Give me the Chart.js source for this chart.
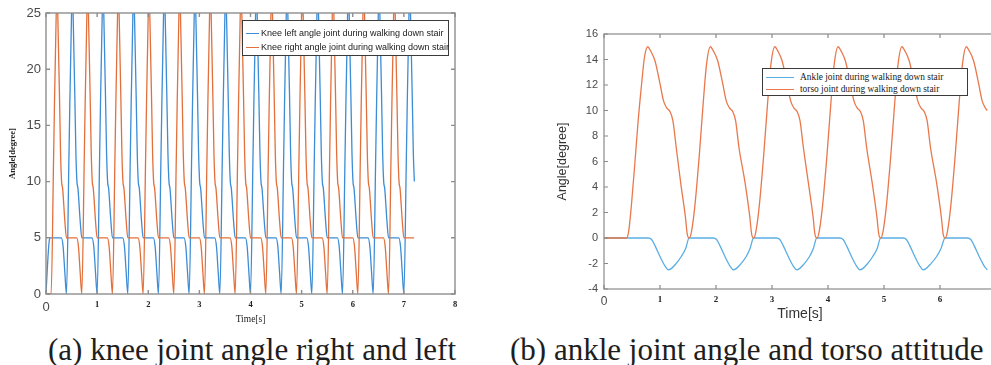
<!DOCTYPE html>
<html>
<head>
<meta charset="utf-8">
<script src="https://cdn.jsdelivr.net/npm/chart.js@4.4.1/dist/chart.umd.min.js"></script>
<style>
  html, body { margin: 0; padding: 0; background: #fff; }
  body { width: 991px; height: 365px; overflow: hidden; position: relative; }
  canvas { position: absolute; }
  .legend { position: absolute; background: #fff; border: 1px solid #3a3a3a; box-sizing: border-box; }
  .row { position: absolute; left: 0; white-space: nowrap; color: #1a1a1a; }
  .swatch { position: absolute; height: 0; border-top-width: 1.4px; border-top-style: solid; }
  .caption { position: absolute; font-family: "Liberation Serif", serif; font-size: 31px; line-height: 31px; color: #1e1e1e; white-space: nowrap; }
</style>
</head>
<body>
<canvas id="chartA" width="470" height="330" style="left:0px;top:0px;"></canvas>
<canvas id="chartB" width="460" height="305" style="left:550px;top:20px;"></canvas>

<div class="legend" id="legendA" style="left:242px;top:20px;width:207px;height:36px;font-family:'Liberation Sans',sans-serif;font-size:9px;"></div>
<div class="legend" id="legendB" style="left:762px;top:68px;width:206px;height:28px;font-family:'Liberation Serif',serif;font-size:9.4px;"></div>

<div class="caption" style="left:48px;top:334px;">(a) knee joint angle right and left</div>
<div class="caption" style="left:510px;top:334px;">(b) ankle joint angle and torso attitude</div>

<script>
// ---------------- Panel (a): knee joint angles ----------------
const kneeSeriesNames = ["Knee left angle joint during walking down stair", "Knee right angle joint during walking down stair"];
const kneeXTicks = [0, 1, 2, 3, 4, 5, 6, 7, 8];
const kneeYTicks = [0, 5, 10, 15, 20, 25];

const kneeLeftTime = [
  0, 0.03, 0.06, 0.08,
  0.30, 0.335, 0.37, 0.40, 0.45, 0.50, 0.515, 0.53, 0.585, 0.605, 0.625, 0.67, 0.70,
  0.90, 0.935, 0.97, 1.00, 1.05, 1.10, 1.115, 1.13, 1.185, 1.205, 1.225, 1.27, 1.30,
  1.50, 1.535, 1.57, 1.60, 1.65, 1.70, 1.715, 1.73, 1.785, 1.805, 1.825, 1.87, 1.90,
  2.10, 2.135, 2.17, 2.20, 2.25, 2.30, 2.315, 2.33, 2.385, 2.405, 2.425, 2.47, 2.50,
  2.70, 2.735, 2.77, 2.80, 2.85, 2.90, 2.915, 2.93, 2.985, 3.005, 3.025, 3.07, 3.10,
  3.30, 3.335, 3.37, 3.40, 3.45, 3.50, 3.515, 3.53, 3.585, 3.605, 3.625, 3.67, 3.70,
  3.90, 3.935, 3.97, 4.00, 4.05, 4.10, 4.115, 4.13, 4.185, 4.205, 4.225, 4.27, 4.30,
  4.50, 4.535, 4.57, 4.60, 4.65, 4.70, 4.715, 4.73, 4.785, 4.805, 4.825, 4.87, 4.90,
  5.10, 5.135, 5.17, 5.20, 5.25, 5.30, 5.315, 5.33, 5.385, 5.405, 5.425, 5.47, 5.50,
  5.70, 5.735, 5.77, 5.80, 5.85, 5.90, 5.915, 5.93, 5.985, 6.005, 6.025, 6.07, 6.10,
  6.30, 6.335, 6.37, 6.40, 6.45, 6.50, 6.515, 6.53, 6.585, 6.605, 6.625, 6.67, 6.70,
  6.90, 6.935, 6.97, 7.00, 7.05, 7.10, 7.115, 7.13, 7.185, 7.205
];
const kneeLeftAngle = [
  0, 2.6, 4.6, 5,
  5, 4.2, 1.8, 0, 12.5, 25, 25.6, 25, 12.5, 10, 9.4, 6.4, 5,
  5, 4.2, 1.8, 0, 12.5, 25, 25.6, 25, 12.5, 10, 9.4, 6.4, 5,
  5, 4.2, 1.8, 0, 12.5, 25, 25.6, 25, 12.5, 10, 9.4, 6.4, 5,
  5, 4.2, 1.8, 0, 12.5, 25, 25.6, 25, 12.5, 10, 9.4, 6.4, 5,
  5, 4.2, 1.8, 0, 12.5, 25, 25.6, 25, 12.5, 10, 9.4, 6.4, 5,
  5, 4.2, 1.8, 0, 12.5, 25, 25.6, 25, 12.5, 10, 9.4, 6.4, 5,
  5, 4.2, 1.8, 0, 12.5, 25, 25.6, 25, 12.5, 10, 9.4, 6.4, 5,
  5, 4.2, 1.8, 0, 12.5, 25, 25.6, 25, 12.5, 10, 9.4, 6.4, 5,
  5, 4.2, 1.8, 0, 12.5, 25, 25.6, 25, 12.5, 10, 9.4, 6.4, 5,
  5, 4.2, 1.8, 0, 12.5, 25, 25.6, 25, 12.5, 10, 9.4, 6.4, 5,
  5, 4.2, 1.8, 0, 12.5, 25, 25.6, 25, 12.5, 10, 9.4, 6.4, 5,
  5, 4.2, 1.8, 0, 12.5, 25, 25.6, 25, 12.5, 10
];
const kneeRightTime = [
  0, 0.10, 0.15, 0.20, 0.215, 0.23, 0.285, 0.305, 0.325, 0.37, 0.40,
  0.60, 0.635, 0.67, 0.70, 0.75, 0.80, 0.815, 0.83, 0.885, 0.905, 0.925, 0.97, 1.00,
  1.20, 1.235, 1.27, 1.30, 1.35, 1.40, 1.415, 1.43, 1.485, 1.505, 1.525, 1.57, 1.60,
  1.80, 1.835, 1.87, 1.90, 1.95, 2.00, 2.015, 2.03, 2.085, 2.105, 2.125, 2.17, 2.20,
  2.40, 2.435, 2.47, 2.50, 2.55, 2.60, 2.615, 2.63, 2.685, 2.705, 2.725, 2.77, 2.80,
  3.00, 3.035, 3.07, 3.10, 3.15, 3.20, 3.215, 3.23, 3.285, 3.305, 3.325, 3.37, 3.40,
  3.60, 3.635, 3.67, 3.70, 3.75, 3.80, 3.815, 3.83, 3.885, 3.905, 3.925, 3.97, 4.00,
  4.20, 4.235, 4.27, 4.30, 4.35, 4.40, 4.415, 4.43, 4.485, 4.505, 4.525, 4.57, 4.60,
  4.80, 4.835, 4.87, 4.90, 4.95, 5.00, 5.015, 5.03, 5.085, 5.105, 5.125, 5.17, 5.20,
  5.40, 5.435, 5.47, 5.50, 5.55, 5.60, 5.615, 5.63, 5.685, 5.705, 5.725, 5.77, 5.80,
  6.00, 6.035, 6.07, 6.10, 6.15, 6.20, 6.215, 6.23, 6.285, 6.305, 6.325, 6.37, 6.40,
  6.60, 6.635, 6.67, 6.70, 6.75, 6.80, 6.815, 6.83, 6.885, 6.905, 6.925, 6.97, 7.00,
  7.20
];
const kneeRightAngle = [
  0, 0, 12.5, 25, 25.6, 25, 12.5, 10, 9.4, 6.4, 5,
  5, 4.2, 1.8, 0, 12.5, 25, 25.6, 25, 12.5, 10, 9.4, 6.4, 5,
  5, 4.2, 1.8, 0, 12.5, 25, 25.6, 25, 12.5, 10, 9.4, 6.4, 5,
  5, 4.2, 1.8, 0, 12.5, 25, 25.6, 25, 12.5, 10, 9.4, 6.4, 5,
  5, 4.2, 1.8, 0, 12.5, 25, 25.6, 25, 12.5, 10, 9.4, 6.4, 5,
  5, 4.2, 1.8, 0, 12.5, 25, 25.6, 25, 12.5, 10, 9.4, 6.4, 5,
  5, 4.2, 1.8, 0, 12.5, 25, 25.6, 25, 12.5, 10, 9.4, 6.4, 5,
  5, 4.2, 1.8, 0, 12.5, 25, 25.6, 25, 12.5, 10, 9.4, 6.4, 5,
  5, 4.2, 1.8, 0, 12.5, 25, 25.6, 25, 12.5, 10, 9.4, 6.4, 5,
  5, 4.2, 1.8, 0, 12.5, 25, 25.6, 25, 12.5, 10, 9.4, 6.4, 5,
  5, 4.2, 1.8, 0, 12.5, 25, 25.6, 25, 12.5, 10, 9.4, 6.4, 5,
  5, 4.2, 1.8, 0, 12.5, 25, 25.6, 25, 12.5, 10, 9.4, 6.4, 5,
  5
];

// ---------------- Panel (b): ankle joint and torso ----------------
const ankleSeriesNames = ["Ankle joint during walking down stair", "torso joint during walking down stair"];
const ankleXTicks = [0, 1, 2, 3, 4, 5, 6, 7];
const ankleYTicks = [-4, -2, 0, 2, 4, 6, 8, 10, 12, 14, 16];

const ankleTime = [
  0, 0.79, 0.85, 0.91, 1.00, 1.09, 1.15, 1.20, 1.27, 1.38, 1.46, 1.52,
  1.95, 2.01, 2.07, 2.16, 2.25, 2.31, 2.36, 2.43, 2.54, 2.61, 2.67,
  3.08, 3.14, 3.20, 3.29, 3.38, 3.44, 3.49, 3.56, 3.67, 3.74, 3.80,
  4.21, 4.27, 4.33, 4.42, 4.51, 4.57, 4.62, 4.69, 4.80, 4.88, 4.94,
  5.34, 5.40, 5.46, 5.55, 5.64, 5.70, 5.75, 5.82, 5.94, 6.02, 6.09,
  6.49, 6.55, 6.61, 6.70, 6.79, 6.845
];
const ankleAngle = [
  0, 0, -0.12, -0.6, -1.45, -2.2, -2.5, -2.4, -2.1, -1.45, -0.8, 0,
  0, -0.12, -0.6, -1.45, -2.2, -2.5, -2.4, -2.1, -1.45, -0.8, 0,
  0, -0.12, -0.6, -1.45, -2.2, -2.5, -2.4, -2.1, -1.45, -0.8, 0,
  0, -0.12, -0.6, -1.45, -2.2, -2.5, -2.4, -2.1, -1.45, -0.8, 0,
  0, -0.12, -0.6, -1.45, -2.2, -2.5, -2.4, -2.1, -1.45, -0.8, 0,
  0, -0.12, -0.6, -1.45, -2.2, -2.5
];
const torsoTime = [
  0, 0.40, 0.44, 0.49, 0.55, 0.61, 0.67, 0.72, 0.78,
  0.83, 0.91, 1.00, 1.06, 1.12, 1.18, 1.23, 1.29, 1.37, 1.455, 1.485, 1.52,
  1.56, 1.62, 1.70, 1.77, 1.83, 1.90,
  1.95, 2.03, 2.12, 2.18, 2.24, 2.30, 2.35, 2.41, 2.52, 2.605, 2.635, 2.67,
  2.71, 2.77, 2.85, 2.92, 2.98, 3.05,
  3.10, 3.18, 3.27, 3.33, 3.39, 3.45, 3.50, 3.56, 3.65, 3.735, 3.765, 3.80,
  3.84, 3.90, 3.98, 4.05, 4.11, 4.18,
  4.23, 4.31, 4.40, 4.46, 4.52, 4.58, 4.63, 4.69, 4.79, 4.875, 4.905, 4.94,
  4.98, 5.04, 5.12, 5.19, 5.25, 5.32,
  5.37, 5.45, 5.54, 5.60, 5.66, 5.72, 5.77, 5.83, 5.94, 6.025, 6.055, 6.09,
  6.13, 6.19, 6.27, 6.34, 6.40, 6.47,
  6.52, 6.60, 6.69, 6.75, 6.81, 6.845
];
const torsoAngle = [
  0, 0, 0.5, 2.6, 5.8, 9.2, 12.0, 14.1, 15,
  14.7, 13.9, 12.1, 10.8, 10.2, 9.9, 9.2, 7.1, 4.3, 1.6, 0.35, 0,
  0.45, 2.4, 6.4, 10.5, 13.6, 15,
  14.7, 13.9, 12.1, 10.8, 10.2, 9.9, 9.2, 7.1, 4.3, 1.6, 0.35, 0,
  0.45, 2.4, 6.4, 10.5, 13.6, 15,
  14.7, 13.9, 12.1, 10.8, 10.2, 9.9, 9.2, 7.1, 4.3, 1.6, 0.35, 0,
  0.45, 2.4, 6.4, 10.5, 13.6, 15,
  14.7, 13.9, 12.1, 10.8, 10.2, 9.9, 9.2, 7.1, 4.3, 1.6, 0.35, 0,
  0.45, 2.4, 6.4, 10.5, 13.6, 15,
  14.7, 13.9, 12.1, 10.8, 10.2, 9.9, 9.2, 7.1, 4.3, 1.6, 0.35, 0,
  0.45, 2.4, 6.4, 10.5, 13.6, 15,
  14.7, 13.9, 12.1, 10.8, 10.2, 10.0
];

// ---------------- helpers ----------------
const pairs = (xs, ys) => xs.map((x, i) => ({ x: x, y: ys[i] }));

const framePlugin = {
  id: 'frame',
  afterDatasetsDraw(chart, args, opts) {
    const { ctx, chartArea: a, scales } = chart;
    const x = scales.x, y = scales.y;
    ctx.save();
    ctx.strokeStyle = opts.color;
    ctx.lineWidth = opts.width;
    const L = opts.tick;
    ctx.beginPath();
    x.ticks.forEach(t => {
      const px = x.getPixelForValue(t.value);
      ctx.moveTo(px, a.bottom); ctx.lineTo(px, a.bottom - L);
      ctx.moveTo(px, a.top); ctx.lineTo(px, a.top + L);
    });
    y.ticks.forEach(t => {
      const py = y.getPixelForValue(t.value);
      ctx.moveTo(a.left, py); ctx.lineTo(a.left + L, py);
      ctx.moveTo(a.right, py); ctx.lineTo(a.right - L, py);
    });
    ctx.stroke();
    ctx.strokeRect(a.left, a.top, a.right - a.left, a.bottom - a.top);
    ctx.restore();
  }
};

function buildLegend(el, names, colors, cfg) {
  names.forEach((n, i) => {
    const sw = document.createElement('div');
    sw.className = 'swatch';
    sw.style.left = cfg.swLeft + 'px';
    sw.style.width = cfg.swWidth + 'px';
    sw.style.top = (cfg.rows[i]) + 'px';
    sw.style.borderTopColor = colors[i];
    el.appendChild(sw);
    const r = document.createElement('div');
    r.className = 'row';
    r.style.left = cfg.textLeft + 'px';
    r.style.top = (cfg.rows[i] - cfg.half) + 'px';
    r.style.lineHeight = (2 * cfg.half) + 'px';
    r.textContent = n;
    el.appendChild(r);
  });
}

const colorsA = ['#3c8cd6', '#e2703d'];
const colorsB = ['#5aaee3', '#e9784c'];

// ---------------- chart A ----------------
new Chart(document.getElementById('chartA'), {
  type: 'line',
  data: {
    datasets: [
      { label: kneeSeriesNames[0], data: pairs(kneeLeftTime, kneeLeftAngle), borderColor: colorsA[0], order: 1 },
      { label: kneeSeriesNames[1], data: pairs(kneeRightTime, kneeRightAngle), borderColor: colorsA[1], order: 0 }
    ]
  },
  options: {
    responsive: false, animation: false, devicePixelRatio: 1,
    layout: { padding: { top: 13, right: 15, left: 0, bottom: 0 } },
    elements: { point: { radius: 0 }, line: { borderWidth: 1.3, cubicInterpolationMode: 'monotone' } },
    datasets: { line: { clip: 0 } },
    plugins: { legend: { display: false }, tooltip: { enabled: false },
      frame: { color: '#8e8e8e', width: 1.4, tick: 4 } },
    scales: {
      x: {
        type: 'linear', min: 0, max: 8,
        afterBuildTicks: s => { s.ticks = kneeXTicks.map(v => ({ value: v })); },
        afterFit: s => { s.height = 36; },
        grid: { display: false, drawTicks: false }, border: { display: false },
        ticks: {
          padding: 6, maxRotation: 0,
          color: ctx => ctx.tick && ctx.tick.value === 0 ? '#4a4a4a' : '#222',
          font: ctx => (ctx.tick && ctx.tick.value === 0) ? { family: 'Liberation Sans', size: 13 } : { family: 'Liberation Serif', size: 8.5, weight: 'bold' }
        },
        title: { display: true, text: 'Time[s]', color: '#222', font: { family: 'Liberation Serif', size: 9.5 }, padding: { top: 0, bottom: 5 } }
      },
      y: {
        type: 'linear', min: 0, max: 25,
        afterBuildTicks: s => { s.ticks = kneeYTicks.map(v => ({ value: v })); },
        afterFit: s => { s.width = 46; },
        grid: { display: false, drawTicks: false }, border: { display: false },
        ticks: { padding: 5, color: '#4a4a4a', font: { family: 'Liberation Sans', size: 13 } },
        title: { display: true, text: 'Angle[degree]', color: '#222', font: { family: 'Liberation Serif', size: 8.5, weight: 'bold' }, padding: { top: 8, bottom: 0 } }
      }
    }
  },
  plugins: [framePlugin]
});

// ---------------- chart B ----------------
new Chart(document.getElementById('chartB'), {
  type: 'line',
  data: {
    datasets: [
      { label: ankleSeriesNames[0], data: pairs(ankleTime, ankleAngle), borderColor: colorsB[0], order: 1 },
      { label: ankleSeriesNames[1], data: pairs(torsoTime, torsoAngle), borderColor: colorsB[1], order: 0 }
    ]
  },
  options: {
    responsive: false, animation: false, devicePixelRatio: 1,
    layout: { padding: { top: 14, right: 14, left: 0, bottom: 0 } },
    elements: { point: { radius: 0 }, line: { borderWidth: 1.3, cubicInterpolationMode: 'monotone' } },
    datasets: { line: { clip: 0 } },
    plugins: { legend: { display: false }, tooltip: { enabled: false },
      frame: { color: '#8a8a8a', width: 1.2, tick: 4 } },
    scales: {
      x: {
        type: 'linear', min: 0, max: 7,
        afterBuildTicks: s => { s.ticks = ankleXTicks.map(v => ({ value: v })); },
        afterFit: s => { s.height = 36; },
        grid: { display: false, drawTicks: false }, border: { display: false },
        ticks: {
          padding: 5, maxRotation: 0,
          color: ctx => ctx.tick && ctx.tick.value === 0 ? '#4a4a4a' : '#222',
          font: ctx => (ctx.tick && ctx.tick.value === 0) ? { family: 'Liberation Sans', size: 12 } : { family: 'Liberation Serif', size: 9, weight: 'bold' }
        },
        title: { display: true, text: 'Time[s]', color: '#333', font: { family: 'Liberation Sans', size: 14 }, padding: { top: 0, bottom: 2 } }
      },
      y: {
        type: 'linear', min: -4, max: 16,
        afterBuildTicks: s => { s.ticks = ankleYTicks.map(v => ({ value: v })); },
        afterFit: s => { s.width = 54; },
        grid: { display: false, drawTicks: false }, border: { display: false },
        ticks: { padding: 6, color: '#4a4a4a', font: { family: 'Liberation Sans', size: 11 } },
        title: { display: true, text: 'Angle[degree]', color: '#333', font: { family: 'Liberation Sans', size: 12.5 }, padding: { top: 5, bottom: 0 } }
      }
    }
  },
  plugins: [framePlugin]
});

buildLegend(document.getElementById('legendA'), kneeSeriesNames, colorsA, { swLeft: 3, swWidth: 13, textLeft: 18, rows: [12, 25.5], half: 6 });
buildLegend(document.getElementById('legendB'), ankleSeriesNames, colorsB, { swLeft: 3, swWidth: 28, textLeft: 37, rows: [7.5, 20], half: 6 });
</script>
</body>
</html>
